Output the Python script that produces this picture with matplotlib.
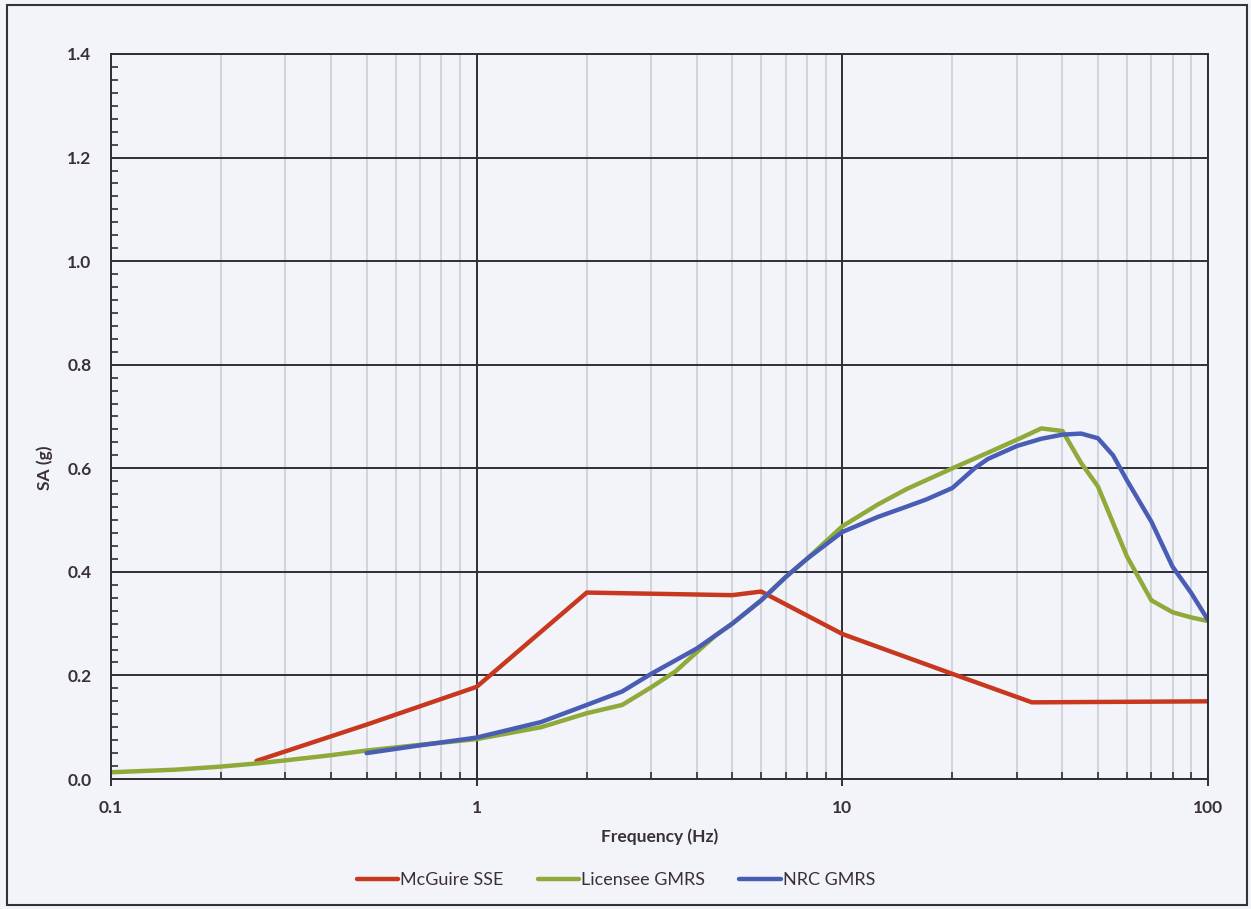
import matplotlib
matplotlib.use("Agg")
import matplotlib.pyplot as plt
from matplotlib.ticker import FixedLocator, NullFormatter, MultipleLocator, FuncFormatter
from matplotlib.patches import Rectangle

# Spectral acceleration curves (frequency in Hz, SA in g)
sse_freq = [0.25, 0.5, 1, 2, 5, 6, 10, 20, 33, 100]
sse_sa = [0.035, 0.105, 0.178, 0.36, 0.355, 0.362, 0.28, 0.203, 0.148, 0.15]

lic_freq = [0.1, 0.15, 0.2, 0.25, 0.3, 0.4, 0.5, 0.7, 1, 1.5, 2, 2.5, 3, 3.5, 4, 4.5,
            5, 6, 7, 8, 10, 12.5, 15, 20, 25, 30, 35, 40, 45, 50, 60, 70, 80, 90, 100]
lic_sa = [0.013, 0.018, 0.024, 0.030, 0.036, 0.046, 0.055, 0.066, 0.077, 0.10, 0.127,
          0.143, 0.177, 0.208, 0.245, 0.277, 0.30, 0.345, 0.39, 0.425, 0.488, 0.53, 0.56,
          0.60, 0.63, 0.655, 0.677, 0.672, 0.61, 0.565, 0.43, 0.345, 0.322, 0.312, 0.305]

nrc_freq = [0.5, 0.7, 1, 1.5, 2, 2.5, 3, 4, 5, 6, 7, 8, 10, 12.5, 15, 17, 20, 23, 25, 30,
            35, 40, 45, 50, 55, 60, 70, 80, 90, 100]
nrc_sa = [0.05, 0.065, 0.08, 0.11, 0.143, 0.169, 0.203, 0.252, 0.30, 0.345, 0.39, 0.425,
          0.477, 0.506, 0.526, 0.54, 0.562, 0.6, 0.618, 0.643, 0.657, 0.665, 0.667, 0.658,
          0.625, 0.577, 0.497, 0.41, 0.359, 0.307]

x_ticks = [0.1, 1, 10, 100]
x_tick_labels = ["0.1", "1", "10", "100"]

series_names = ["McGuire SSE", "Licensee GMRS", "NRC GMRS"]
series_colors = ["#C8381E", "#8FAA3A", "#4A5DB5"]

plt.rcParams['font.family'] = ['Lato', 'DejaVu Sans']
bg = "#F2F4FA"
text_col = "#3A3136"

fig = plt.figure(figsize=(12.51, 9.09), dpi=100, facecolor=bg)
ax = fig.add_axes([111 / 1251, 1 - 779 / 909, (1208 - 111) / 1251, (779 - 54) / 909])
ax.set_facecolor(bg)

ax.set_xscale('log')
ax.set_xlim(0.1, 100)
ax.set_ylim(0, 1.4)

# grid
ax.xaxis.set_major_locator(FixedLocator(x_ticks))
ax.xaxis.set_minor_locator(FixedLocator([m * d for d in (0.1, 1, 10) for m in range(2, 10)]))
ax.xaxis.set_minor_formatter(NullFormatter())
ax.set_xticklabels(x_tick_labels)
ax.yaxis.set_major_locator(MultipleLocator(0.2))
ax.yaxis.set_minor_locator(MultipleLocator(0.025))
ax.yaxis.set_major_formatter(FuncFormatter(lambda v, p: f"{v:.1f}"))

ax.grid(which='minor', axis='x', color='#D3D5DD', linewidth=1.5)
ax.grid(which='major', axis='both', color='#2E2E33', linewidth=1.4)
ax.set_axisbelow(True)

for s in ax.spines.values():
    s.set_color('#2E2E33')
    s.set_linewidth(1.4)

ax.tick_params(which='major', axis='x', direction='inout', length=10, width=1.4,
               color='#2E2E33', pad=10)
ax.tick_params(which='minor', axis='x', direction='in', length=5, width=1.2, color='#2E2E33')
ax.tick_params(which='major', axis='y', direction='out', length=0, pad=14)
ax.tick_params(which='minor', axis='y', direction='in', length=5, width=1.2, color='#2E2E33')
ax.tick_params(labelsize=12.5, labelcolor=text_col)
for lab in ax.get_xticklabels() + ax.get_yticklabels():
    lab.set_fontweight('bold')

# curves
for f, sa, name, col in zip([sse_freq, lic_freq, nrc_freq], [sse_sa, lic_sa, nrc_sa],
                            series_names, series_colors):
    ax.plot(f, sa, color=col, linewidth=3.2, label=name, solid_capstyle='round',
            solid_joinstyle='round')

ax.set_xlabel("Frequency (Hz)", fontsize=12.5, fontweight='bold', color=text_col)
ax.xaxis.set_label_coords(0.5, -(828 - 779) / 725)
ax.set_ylabel("SA (g)", fontsize=12.5, fontweight='bold', color=text_col)
ax.yaxis.set_label_coords(-(111 - 53) / 1097, (779 - 468) / 725)

fig.legend(loc='center', bbox_to_anchor=(616 / 1251, 1 - 880 / 909), ncol=3, frameon=False,
           fontsize=13, handlelength=2.3, handletextpad=0.1, columnspacing=1.9,
           labelcolor=text_col)

# outer chart border
fig.add_artist(Rectangle((7 / 1251, 1 - 905 / 909), (1247 - 7) / 1251, (905 - 5) / 909,
                         transform=fig.transFigure, fill=False, edgecolor='#333333',
                         linewidth=1.5))

fig.savefig("out.png", dpi=100, facecolor=bg)
